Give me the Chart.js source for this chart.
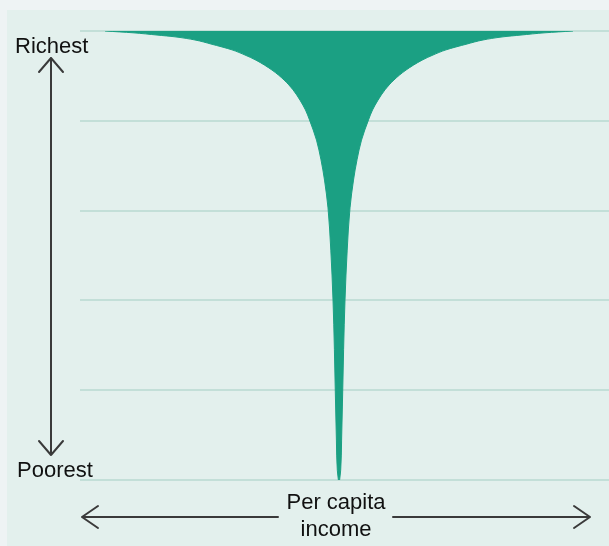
<!DOCTYPE html>
<html>
<head>
<meta charset="utf-8">
<script src="https://cdn.jsdelivr.net/npm/chart.js@4"></script>
<style>
  html, body { margin: 0; padding: 0; background: #eef3f4; }
  #wrap { position: relative; width: 609px; height: 546px; }
  #panel { position: absolute; left: 7px; top: 10px; right: 0; bottom: 0; background: #e3f0ed; }
  canvas { position: absolute; left: 0; top: 0; }
</style>
</head>
<body>
<div id="wrap">
  <div id="panel"></div>
  <canvas id="glassChart" width="609" height="546"></canvas>
</div>
<script>
// population rank, 0 = poorest, 100 = richest
const percentile = [0, 2.2, 8.9, 19.6, 29, 40.1, 51.2, 60.6, 66.8, 71.3, 75.7, 80.2, 82.4, 84.6, 86.9, 89.1, 91.3, 93.5, 94.65, 95.8, 97.1, 98, 98.7, 99.1, 99.6, 100];
// half width of the glass at that rank (per capita income)
const incomeSpread = [0.6, 1.7, 2.6, 3.7, 4.6, 6, 8.2, 11, 14.5, 18, 22.5, 29.5, 33.5, 39, 46, 55, 67, 83, 94, 107, 128, 144, 164, 182, 206, 234];
const rankLabels = ['Poorest', 'Richest'];
const incomeLabel = ['Per capita', 'income'];

const green = '#1ba083';

const leftEdge = percentile.map((p, i) => ({ x: -incomeSpread[i], y: p }));
const rightEdge = percentile.map((p, i) => ({ x: incomeSpread[i], y: p }));

// labels and arrows around the plot
const arrowsPlugin = {
    id: 'arrows',
    afterDraw(chart) {
        const ctx = chart.ctx;
        const area = chart.chartArea;
        const yTop = chart.scales.y.getPixelForValue(100);
        const yBot = chart.scales.y.getPixelForValue(0);
        const xMid = chart.scales.x.getPixelForValue(0);

        ctx.save();
        ctx.fillStyle = '#111';
        ctx.font = '22px "Liberation Sans", Arial, sans-serif';
        ctx.textBaseline = 'alphabetic';
        ctx.textAlign = 'left';
        ctx.fillText(rankLabels[1], 15, yTop + 22);
        ctx.fillText(rankLabels[0], 17, yBot - 3);
        ctx.textAlign = 'center';
        ctx.fillText(incomeLabel[0], xMid - 3, yBot + 29);
        ctx.fillText(incomeLabel[1], xMid - 3, yBot + 56);

        ctx.strokeStyle = '#3a3a3a';
        ctx.lineWidth = 2;
        ctx.lineCap = 'round';
        ctx.lineJoin = 'round';
        // vertical arrow
        const ax = 51, a1 = yTop + 27, a2 = yBot - 25;
        ctx.beginPath();
        ctx.moveTo(ax, a1); ctx.lineTo(ax, a2);
        ctx.moveTo(ax - 12, a1 + 14); ctx.lineTo(ax, a1); ctx.lineTo(ax + 12, a1 + 14);
        ctx.moveTo(ax - 12, a2 - 14); ctx.lineTo(ax, a2); ctx.lineTo(ax + 12, a2 - 14);
        ctx.stroke();
        // horizontal arrow
        const hy = yBot + 37, h1 = area.left + 2, h2 = area.right - 19;
        ctx.beginPath();
        ctx.moveTo(h1, hy); ctx.lineTo(xMid - 61, hy);
        ctx.moveTo(xMid + 54, hy); ctx.lineTo(h2, hy);
        ctx.moveTo(h1 + 16, hy - 11); ctx.lineTo(h1, hy); ctx.lineTo(h1 + 16, hy + 11);
        ctx.moveTo(h2 - 16, hy - 11); ctx.lineTo(h2, hy); ctx.lineTo(h2 - 16, hy + 11);
        ctx.stroke();
        ctx.restore();
    }
};

const ctx = document.getElementById('glassChart').getContext('2d');
const glassChart = new Chart(ctx, {
    type: 'line',
    data: {
        datasets: [
            {
                label: 'left',
                data: leftEdge,
                borderColor: green,
                backgroundColor: green,
                borderWidth: 1,
                pointRadius: 0,
                cubicInterpolationMode: 'monotone',
                fill: '+1'
            },
            {
                label: 'right',
                data: rightEdge,
                borderColor: green,
                backgroundColor: green,
                borderWidth: 1,
                pointRadius: 0,
                cubicInterpolationMode: 'monotone',
                fill: false
            }
        ]
    },
    options: {
        responsive: false,
        animation: false,
        indexAxis: 'y',
        layout: {
            padding: { left: 80, top: 31, right: 0, bottom: 66 }
        },
        scales: {
            x: {
                type: 'linear',
                display: false,
                min: -259,
                max: 270
            },
            y: {
                type: 'linear',
                min: 0,
                max: 100,
                afterFit: function(scale) { scale.width = 0; },
                ticks: { display: false, stepSize: 20 },
                border: { display: false },
                grid: {
                    color: '#c3dfd8',
                    lineWidth: 2,
                    drawTicks: false
                }
            }
        },
        plugins: {
            legend: { display: false },
            tooltip: { enabled: false }
        }
    },
    plugins: [arrowsPlugin]
});
</script>
</body>
</html>
